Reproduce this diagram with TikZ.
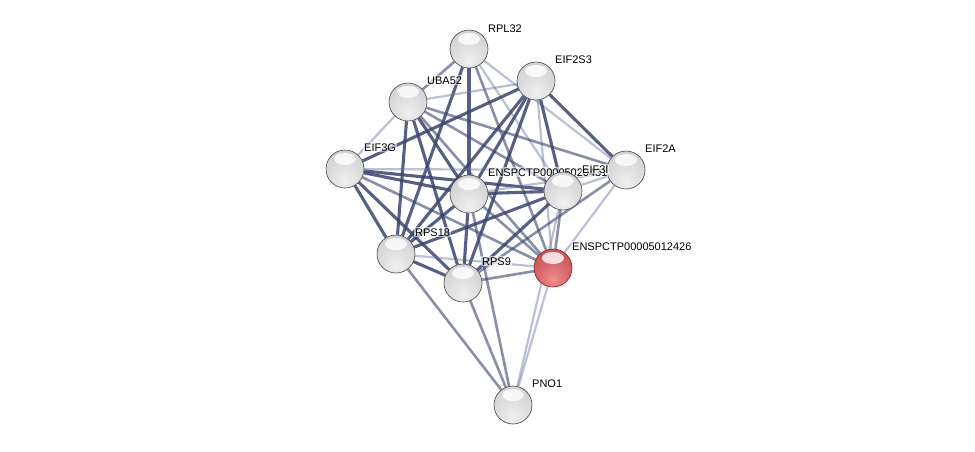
\documentclass[tikz,border=0pt]{standalone}
\usepackage{fontspec}
\setmainfont{Liberation Sans}
\usetikzlibrary{backgrounds,calc}
\definecolor{edgec}{RGB}{58,68,108}
\definecolor{edgel}{RGB}{105,115,160}
\definecolor{rlight}{RGB}{242,142,142}
\definecolor{rmid}{RGB}{214,98,103}
\definecolor{rdark}{RGB}{190,72,78}
\definecolor{rrim}{RGB}{120,35,40}
\pgfdeclareradialshading{stringball}{\pgfqpoint{0bp}{-16bp}}{%
 color(0bp)=(gray!12); color(22bp)=(gray!28); color(42bp)=(gray!42);
 color(60bp)=(gray!52); color(66bp)=(gray!70); color(80bp)=(gray!70)}
\pgfdeclareradialshading{redball}{\pgfqpoint{0bp}{-16bp}}{%
 color(0bp)=(rlight); color(22bp)=(rmid); color(42bp)=(rdark);
 color(60bp)=(rdark); color(66bp)=(rrim); color(80bp)=(rrim)}
\tikzset{
 gball/.style={circle, minimum size=38pt, inner sep=0pt, shading=stringball, draw=gray!55!black, line width=0.6pt,
   path picture={\fill[white,opacity=0.8] ([yshift=10pt]path picture bounding box.center) ellipse (11pt and 6pt);}},
 rball/.style={gball, shading=redball, draw=rrim},
 lab/.style={anchor=base west, inner sep=1pt, fill=white, fill opacity=0.55, text opacity=1, font=\fontsize{11}{13}\selectfont},
 estrong/.style={draw=edgec, line width=3.1pt, draw opacity=0.85},
 emid/.style={draw=edgec, line width=2.6pt, draw opacity=0.6},
 eweak/.style={draw=edgel, line width=2.2pt, draw opacity=0.45},
}
\begin{document}
\begin{tikzpicture}[x=1pt,y=-1pt]
\useasboundingbox (0,0) rectangle (975,451);
% nodes and labels
\node[gball] (RPL32) at (469,49) {};
\node[lab] (lRPL32) at (487,32) {RPL32};
\node[gball] (EIF2S3) at (536,81) {};
\node[lab] (lEIF2S3) at (554,63) {EIF2S3};
\node[gball] (UBA52) at (408,102) {};
\node[lab] (lUBA52) at (426,84) {UBA52};
\node[gball] (EIF3G) at (345,169) {};
\node[lab] (lEIF3G) at (363,151) {EIF3G};
\node[gball] (EIF2A) at (626,170) {};
\node[lab] (lEIF2A) at (644,152) {EIF2A};
\node[gball] (CEN) at (469,194) {};
\node[lab] (lCEN) at (487,176) {ENSPCTP00005020431};
\node[gball] (EIF3I) at (563,191) {};
\node[lab] (lEIF3I) at (581,173) {EIF3I};
\node[gball] (RPS18) at (396,254) {};
\node[lab] (lRPS18) at (414,236) {RPS18};
\node[gball] (RPS9) at (463,283) {};
\node[lab] (lRPS9) at (481,265) {RPS9};
\node[rball] (RED) at (553,268) {};
\node[lab] (lRED) at (571,250) {ENSPCTP00005012426};
\node[gball] (PNO1) at (513,405) {};
\node[lab] (lPNO1) at (531,387) {PNO1};
% edges
\begin{scope}[on background layer]
\draw[emid] (RPL32) -- (UBA52);
\draw[estrong] (RPL32) -- (CEN);
\draw[estrong] (RPL32) -- (RPS18);
\draw[eweak] (RPL32) -- (EIF3I);
\draw[emid] (RPL32) -- (RED);
\draw[eweak] (RPL32) -- (EIF2A);
\draw[eweak] (EIF2S3) -- (UBA52);
\draw[estrong] (EIF2S3) -- (EIF3G);
\draw[estrong] (EIF2S3) -- (EIF2A);
\draw[estrong] (EIF2S3) -- (EIF3I);
\draw[estrong] (EIF2S3) -- (CEN);
\draw[estrong] (EIF2S3) -- (RPS18);
\draw[estrong] (EIF2S3) -- (RPS9);
\draw[eweak] (EIF2S3) -- (RED);
\draw[eweak] (UBA52) -- (EIF3G);
\draw[estrong] (UBA52) -- (RPS18);
\draw[estrong] (UBA52) -- (CEN);
\draw[estrong] (UBA52) -- (RPS9);
\draw[emid] (UBA52) -- (EIF3I);
\draw[emid] (UBA52) -- (EIF2A);
\draw[emid] (UBA52) -- (RED);
\draw[estrong] (EIF3G) -- (CEN);
\draw[estrong] (EIF3G) -- (EIF3I);
\draw[eweak] (EIF3G) -- (EIF2A);
\draw[estrong] (EIF3G) -- (RPS18);
\draw[estrong] (EIF3G) -- (RPS9);
\draw[emid] (EIF3G) -- (RED);
\draw[estrong] (RPS18) -- (CEN);
\draw[estrong] (RPS18) -- (EIF3I);
\draw[estrong] (RPS18) -- (RPS9);
\draw[eweak] (RPS18) -- (RED);
\draw[emid] (RPS18) -- (PNO1);
\draw[estrong] (RPS9) -- (CEN);
\draw[estrong] (RPS9) -- (EIF3I);
\draw[emid] (RPS9) -- (RED);
\draw[emid] (RPS9) -- (PNO1);
\draw[emid] (RPS9) -- (EIF2A);
\draw[estrong] (CEN) -- (EIF3I);
\draw[eweak] (CEN) -- (EIF2A);
\draw[emid] (CEN) -- (RED);
\draw[emid] (CEN) -- (PNO1);
\draw[eweak] (EIF3I) -- (EIF2A);
\draw[emid] (EIF3I) -- (RED);
\draw[eweak] (EIF3I) -- (PNO1);
\draw[eweak] (RED) -- (PNO1);
\draw[eweak] (EIF2A) -- (RED);
\end{scope}
\end{tikzpicture}
\end{document}
